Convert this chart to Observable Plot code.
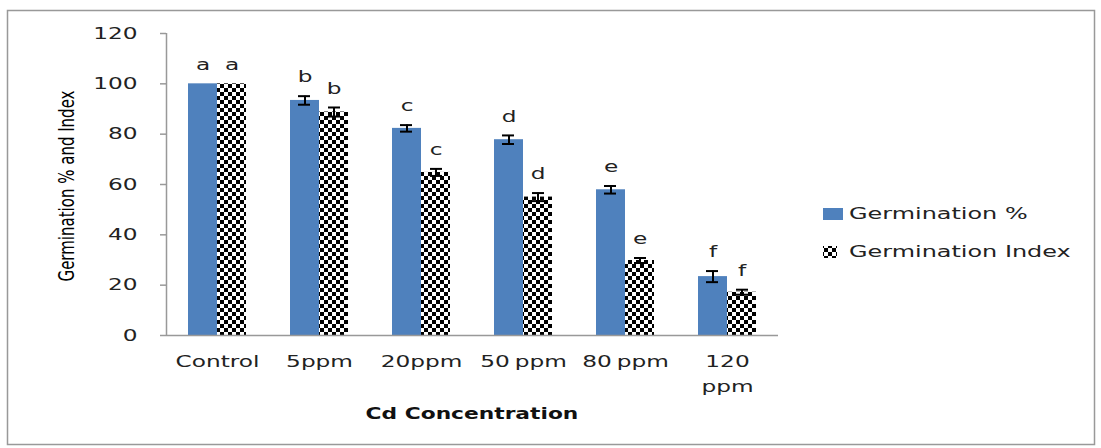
<!DOCTYPE html>
<html>
<head>
<meta charset="utf-8">
<script src="https://cdn.jsdelivr.net/npm/d3@7"></script>
<script src="https://cdn.jsdelivr.net/npm/@observablehq/plot@0.6"></script>
<style>
  html, body { margin: 0; padding: 0; background: #fff; }
  #chart { position: relative; width: 1101px; height: 448px; }
</style>
</head>
<body>
<div id="chart"></div>
<script>
const categories = ["Control", "5ppm", "20ppm", "50 ppm", "80 ppm", "120 ppm"];
const tickLabels = ["Control", "5ppm", "20ppm", "50 ppm", "80 ppm", "120\nppm"];
const seriesNames = ["Germination %", "Germination Index"];
const germPct = [100, 93.4, 82.3, 77.8, 57.9, 23.4];
const germPctErr = [0, 1.7, 1.3, 1.7, 1.5, 2.2];
const germIdx = [100, 88.8, 64.8, 55.0, 29.8, 17.2];
const germIdxErr = [0, 1.8, 1.4, 1.6, 1.0, 1.0];
const lettersPct = ["a", "b", "c", "d", "e", "f"];
const lettersIdx = ["a", "b", "c", "d", "e", "f"];
const yTicks = [0, 20, 40, 60, 80, 100, 120];

const rowsPct = categories.map((c, i) => ({cat: c, v: germPct[i], e: germPctErr[i], l: lettersPct[i]}));
const rowsIdx = categories.map((c, i) => ({cat: c, v: germIdx[i], e: germIdxErr[i], l: lettersIdx[i]}));

const blue = "#4F81BD";
const W = 1101, H = 448;
const font = "DejaVu Sans, Verdana, sans-serif";
const half = 14.5;
const K = 1.45; // horizontal text stretch seen in the reference

const plot = Plot.plot({
  width: W,
  height: H,
  marginLeft: 166,
  marginRight: 323,
  marginTop: 33,
  marginBottom: 113,
  style: {fontFamily: font, fontSize: "16px", background: "transparent", overflow: "visible", color: "#222"},
  x: {domain: categories, padding: 0, label: null},
  y: {domain: [0, 120], label: null},
  marks: [
    Plot.axisX({tickSize: 0, tickPadding: 14, fontSize: 16, lineHeight: 1.55, label: null,
      tickFormat: d => tickLabels[categories.indexOf(d)], fill: "#222"}),
    Plot.axisY({ticks: yTicks, tickSize: 6, tickPadding: 23, fontSize: 16, label: null, stroke: "#999", fill: "#222"}),
    Plot.barY(rowsPct, {x: "cat", y: "v", fill: blue, insetLeft: 22, insetRight: 51}),
    Plot.barY(rowsIdx, {x: "cat", y: "v", fill: "url(#checker)", insetLeft: 51, insetRight: 22}),
    Plot.ruleX(rowsPct.filter(d => d.e > 0), {x: "cat", y1: d => d.v - d.e, y2: d => d.v + d.e, dx: -half, stroke: "black", strokeWidth: 2}),
    Plot.ruleX(rowsIdx.filter(d => d.e > 0), {x: "cat", y1: d => d.v - d.e, y2: d => d.v + d.e, dx: half, stroke: "black", strokeWidth: 2}),
    Plot.tickY(rowsPct.filter(d => d.e > 0), {x: "cat", y: d => d.v + d.e, insetLeft: 30, insetRight: 60, stroke: "black", strokeWidth: 2}),
    Plot.tickY(rowsPct.filter(d => d.e > 0), {x: "cat", y: d => d.v - d.e, insetLeft: 30, insetRight: 60, stroke: "black", strokeWidth: 2}),
    Plot.tickY(rowsIdx.filter(d => d.e > 0), {x: "cat", y: d => d.v + d.e, insetLeft: 60, insetRight: 30, stroke: "black", strokeWidth: 2}),
    Plot.tickY(rowsIdx.filter(d => d.e > 0), {x: "cat", y: d => d.v - d.e, insetLeft: 60, insetRight: 30, stroke: "black", strokeWidth: 2}),
    Plot.text(rowsPct, {x: "cat", y: d => d.v + d.e, text: "l", dx: -half, dy: -19, fontSize: 16, fill: "#222"}),
    Plot.text(rowsIdx, {x: "cat", y: d => d.v + d.e, text: "l", dx: half, dy: -19, fontSize: 16, fill: "#222"}),
    Plot.ruleY([0], {stroke: "#999", strokeWidth: 1.5}),
    Plot.ruleX([categories[0]], {dx: -51, stroke: "#999", strokeWidth: 1.5})
  ]
});

const svg = d3.select(plot);
// checker pattern
const defs = svg.insert("defs", ":first-child");
const c = 4;
const pat = defs.append("pattern").attr("id", "checker").attr("patternUnits", "userSpaceOnUse")
  .attr("width", 2 * c).attr("height", 2 * c);
pat.append("rect").attr("width", 2 * c).attr("height", 2 * c).attr("fill", "white");
pat.append("rect").attr("width", c).attr("height", c).attr("fill", "black");
pat.append("rect").attr("x", c).attr("y", c).attr("width", c).attr("height", c).attr("fill", "black");

svg.selectAll("[aria-label='y-axis tick'] path").attr("stroke-width", 1.5);
svg.selectAll("[aria-label='x-axis tick label']").style("word-spacing", "-1.5px");

// outer border
svg.insert("rect", ":first-child").attr("x", 7.5).attr("y", 10.5).attr("width", 1087).attr("height", 434)
  .attr("fill", "white").attr("stroke", "#999").attr("stroke-width", 1.5);

// y-axis title (glyphs stretched in screen x, i.e. condensed along its reading direction)
svg.append("text").attr("transform", `translate(68,186) scale(${K},1) rotate(-90)`).attr("text-anchor", "middle")
  .attr("dominant-baseline", "middle")
  .style("font-family", font).style("font-size", "15px").attr("fill", "#000")
  .text("Germination % and Index");
// x-axis title
svg.append("text").attr("class", "stretch").attr("x", 472).attr("y", 419).attr("text-anchor", "middle")
  .style("font-family", font).style("font-weight", "bold").style("font-size", "15px").attr("fill", "#111")
  .text("Cd Concentration");

// legend
const lg = svg.append("g").style("font-family", font).style("font-size", "16.5px");
seriesNames.forEach((name, i) => {
  const y = 214 + i * 38;
  if (i === 0) {
    lg.append("rect").attr("x", 823).attr("y", y - 6).attr("width", 20).attr("height", 12).attr("fill", blue);
  } else {
    lg.append("rect").attr("x", 823).attr("y", y - 6).attr("width", 14).attr("height", 12).attr("fill", "url(#checker)");
  }
  lg.append("text").attr("class", "stretch").attr("x", 849).attr("y", y).attr("text-anchor", "start")
    .attr("dominant-baseline", "middle").attr("fill", "#222").text(name);
});

document.getElementById("chart").appendChild(plot);

// turn every tspan line into its own plain text element so it can be stretched
svg.selectAll("text").each(function() {
  const tspans = Array.from(this.querySelectorAll("tspan"));
  if (!tspans.length) return;
  tspans.forEach(t => {
    const bb = t.getBBox();
    const nt = this.cloneNode(false);
    nt.textContent = t.textContent;
    this.parentNode.insertBefore(nt, this);
    const nb = nt.getBBox();
    const tr = nt.getAttribute("transform") || "";
    nt.setAttribute("transform", tr + ` translate(0,${(bb.y - nb.y).toFixed(2)})`);
  });
  this.remove();
});

// stretch horizontal texts as in the reference
function stretch(el) {
  const len = el.getComputedTextLength();
  if (len > 0) {
    el.setAttribute("textLength", (len * K).toFixed(2));
    el.setAttribute("lengthAdjust", "spacingAndGlyphs");
  }
}
svg.selectAll("[aria-label='x-axis tick label'] text, [aria-label='y-axis tick label'] text, [aria-label='text'] text, text.stretch")
  .each(function() { stretch(this); });
</script>
</body>
</html>
